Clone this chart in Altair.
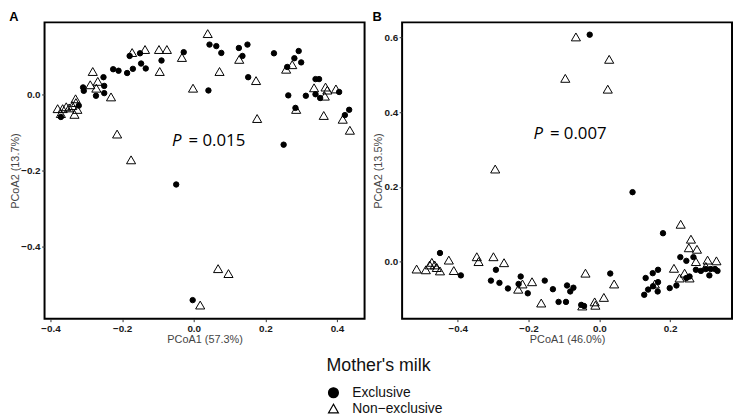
import altair as alt
import pandas as pd

GROUPS = ["Exclusive", "Non\u2212exclusive"]

# ---------------- Panel A (PCoA1 57.3%, PCoA2 13.7%) ----------------
a_exc_x = [-0.371, -0.321, -0.309, -0.307, -0.273, -0.252, -0.250, -0.250, -0.225, -0.210,
           -0.186, -0.170, -0.179, -0.150, -0.147, -0.134, -0.090, -0.028, 0.041, 0.044,
           0.063, 0.077, 0.126, 0.150, 0.136, 0.152, 0.224, 0.261, 0.281, 0.293,
           0.300, 0.264, 0.313, 0.284, 0.340, 0.350, 0.340, 0.353, 0.406, 0.422,
           0.434, 0.251, -0.049, -0.003]
a_exc_y = [-0.059, -0.029, 0.019, 0.010, -0.003, 0.046, 0.023, 0.004, 0.067, 0.063,
           0.057, 0.068, 0.102, 0.109, 0.082, 0.069, 0.090, 0.112, 0.011, 0.132,
           0.128, 0.110, 0.123, 0.132, 0.102, 0.046, 0.109, 0.073, 0.096, 0.115,
           0.085, -0.002, -0.003, -0.035, 0.041, 0.041, 0.001, -0.009, 0.007, -0.054,
           -0.040, -0.132, -0.237, -0.542]
a_non_x = [-0.380, -0.371, -0.366, -0.356, -0.348, -0.339, -0.330, -0.329, -0.333, -0.325,
           -0.282, -0.289, -0.268, -0.272, -0.231, -0.172, -0.136, -0.097, -0.075, -0.095,
           -0.033, -0.002, 0.039, 0.072, 0.127, 0.174, 0.177, 0.258, 0.275, 0.286,
           0.336, 0.366, 0.368, 0.373, 0.397, 0.363, 0.416, 0.436, -0.214, -0.175,
           0.068, 0.097, 0.018]
a_non_y = [-0.037, -0.050, -0.037, -0.032, -0.035, -0.029, -0.011, -0.021, -0.052, -0.039,
           0.061, 0.026, 0.035, 0.017, -0.006, 0.111, 0.119, 0.119, 0.119, 0.061,
           0.098, 0.017, 0.161, 0.061, 0.093, 0.037, -0.063, 0.067, 0.079, -0.039,
           0.018, -0.004, 0.020, 0.012, 0.015, -0.055, -0.065, -0.094, -0.104, -0.172,
           -0.459, -0.472, -0.555]

# ---------------- Panel B (PCoA1 46.0%, PCoA2 13.5%) ----------------
b_exc_x = [-0.027, 0.094, -0.450, -0.391, -0.292, -0.306, -0.282, -0.258, -0.222, -0.228,
           -0.202, -0.154, -0.131, -0.115, -0.094, -0.091, -0.073, -0.082, -0.051, -0.043,
           0.031, 0.180, 0.229, 0.246, 0.266, 0.273, 0.287, 0.301, 0.315, 0.327,
           0.334, 0.311, 0.246, 0.255, 0.166, 0.151, 0.131, 0.166, 0.152, 0.138,
           0.165, 0.127, 0.199, 0.218]
b_exc_y = [0.608, 0.186, 0.023, -0.037, -0.022, -0.051, -0.057, -0.072, -0.040, -0.060,
           -0.085, -0.051, -0.074, -0.108, -0.108, -0.064, -0.070, -0.080, -0.116, -0.119,
           -0.032, 0.076, 0.012, 0.002, 0.012, -0.022, -0.025, -0.020, -0.020, -0.020,
           -0.025, -0.037, -0.044, -0.040, -0.022, -0.031, -0.044, -0.055, -0.066, -0.075,
           -0.080, -0.089, -0.071, -0.064]
b_non_x = [-0.066, 0.028, -0.096, 0.024, -0.294, 0.230, -0.516, -0.490, -0.479, -0.473,
           -0.465, -0.459, -0.450, -0.425, -0.411, -0.346, -0.341, -0.299, -0.269, -0.217,
           -0.229, -0.190, -0.164, -0.039, 0.042, 0.013, -0.013, -0.011, -0.048, 0.259,
           0.253, 0.276, 0.273, 0.306, 0.331, 0.211, 0.241, 0.227, 0.157, 0.255,
           0.301]
b_non_y = [0.602, 0.542, 0.491, 0.462, 0.248, 0.100, -0.020, -0.022, -0.009, -0.002,
           -0.009, -0.016, -0.025, 0.004, -0.024, 0.013, 0.000, 0.013, -0.003, -0.060,
           -0.074, -0.054, -0.111, -0.031, -0.060, -0.096, -0.108, -0.117, -0.119, 0.060,
           0.037, 0.033, 0.000, 0.004, 0.002, -0.018, -0.031, -0.044, -0.060, -0.044,
           -0.013]

# annotation text (data coordinates)
a_p = {"x": -0.034, "y": -0.135, "value": "= 0.015"}
b_p = {"x": -0.159, "y": 0.329, "value": "= 0.007"}


def frame(ex_x, ex_y, nx, ny):
    return pd.DataFrame({
        "x": ex_x + nx,
        "y": ex_y + ny,
        "group": [GROUPS[0]] * len(ex_x) + [GROUPS[1]] * len(nx),
    })


legend = alt.Legend(
    orient="none", legendX=285.5, legendY=339, direction="vertical", title="Mother's milk",
    titleFontSize=18, titleFont="Liberation Sans", titleFontWeight="normal",
    titleColor="#111", titlePadding=11,
    labelFontSize=14, labelFont="Liberation Sans", labelColor="#111",
    symbolSize=100, symbolStrokeWidth=1.2,
    labelOffset=12, rowPadding=1,
)


def panel(df, xdom, ydom, xticks, yticks, xtitle, ytitle, letter, ann, w, h):
    enc = dict(
        x=alt.X("x:Q", scale=alt.Scale(domain=xdom, nice=False, zero=False),
                axis=alt.Axis(values=xticks, format=".1f", title=xtitle)),
        y=alt.Y("y:Q", scale=alt.Scale(domain=ydom, nice=False, zero=False),
                axis=alt.Axis(values=yticks, format=".1f", title=ytitle)),
        shape=alt.Shape("group:N", scale=alt.Scale(domain=GROUPS, range=["circle", "triangle-up"]),
                        legend=legend),
        fill=alt.Fill("group:N", scale=alt.Scale(domain=GROUPS, range=["black", "transparent"]),
                      legend=legend),
        stroke=alt.Stroke("group:N", scale=alt.Scale(domain=GROUPS, range=["black", "black"]),
                          legend=legend),
    )
    base = alt.Chart(df)
    exc = base.transform_filter(alt.datum.group == GROUPS[0]).mark_point(
        filled=True, strokeWidth=1, opacity=1, size=30).encode(**enc)
    non = base.transform_filter(alt.datum.group == GROUPS[1]).mark_point(
        filled=True, strokeWidth=1, opacity=1, size=85).encode(**enc)
    adf = pd.DataFrame({"x": [ann["x"]], "y": [ann["y"]], "p": ["P"], "t": [ann["value"]]})
    p_txt = alt.Chart(adf).mark_text(align="right", baseline="alphabetic", fontStyle="italic",
                                     fontSize=17, font="Open Sans", color="black").encode(
        x="x:Q", y="y:Q", text="p:N")
    v_txt = alt.Chart(adf).mark_text(align="left", baseline="alphabetic", dx=7,
                                     fontSize=17, font="Open Sans", color="black").encode(
        x="x:Q", y="y:Q", text="t:N")
    return alt.layer(exc, non, p_txt, v_txt).properties(
        width=w, height=h,
        title=alt.TitleParams(letter, anchor="start", frame="bounds", fontSize=13,
                              fontWeight="bold", font="Liberation Sans", offset=-2, color="black"),
    )


chart_a = panel(frame(a_exc_x, a_exc_y, a_non_x, a_non_y),
                [-0.4166, 0.477], [-0.591, 0.1906],
                [-0.4, -0.2, 0.0, 0.2, 0.4], [-0.4, -0.2, 0.0],
                "PCoA1 (57.3%)", "PCoA2 (13.7%)", "A", a_p, 324, 300)
chart_b = panel(frame(b_exc_x, b_exc_y, b_non_x, b_non_y),
                [-0.557, 0.375], [-0.153, 0.641],
                [-0.4, -0.2, 0.0, 0.2], [0.0, 0.2, 0.4, 0.6],
                "PCoA1 (46.0%)", "PCoA2 (13.5%)", "B", b_p, 334, 300)

chart = alt.hconcat(chart_a, chart_b, spacing=6).properties(
    padding={"left": 0, "top": 0, "right": 0, "bottom": 0},
    background="white",
).configure_view(
    stroke="black", strokeWidth=2,
).configure_axis(
    grid=False, domain=False,
    labelFont="Liberation Sans", labelFontWeight="bold", labelFontSize=10, labelColor="#1a1a1a",
    labelPadding=1.5, tickSize=3, tickColor="#333", tickWidth=1,
    titleFont="Liberation Sans", titleFontWeight="normal", titleFontSize=11, titleColor="#444",
    titlePadding=0.5,
).configure_concat(spacing=6)

chart.save("out.html", embed_options={"renderer": "svg", "actions": False})
